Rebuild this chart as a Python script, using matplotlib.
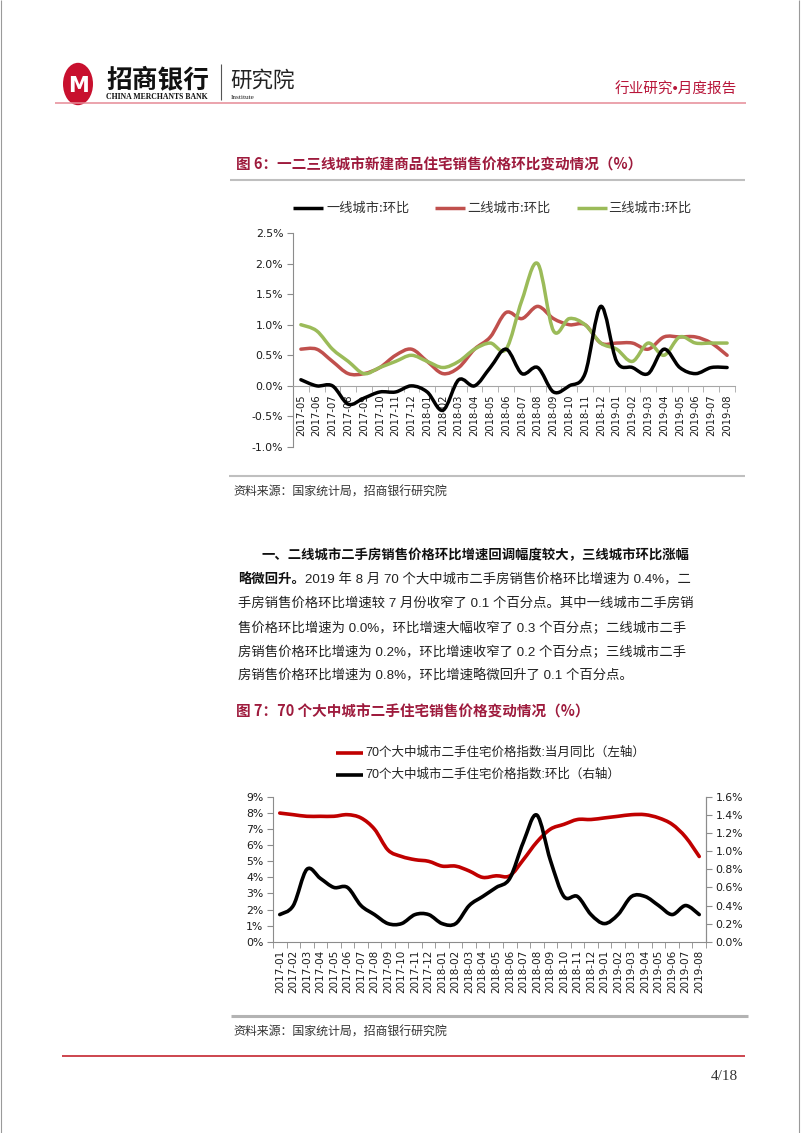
import numpy as np
import matplotlib
matplotlib.use("Agg")
import matplotlib.pyplot as plt
from matplotlib.path import Path
from matplotlib.patches import PathPatch, Circle
from matplotlib.lines import Line2D

plt.rcParams['font.family'] = ['Noto Sans CJK SC', 'DejaVu Sans']

# ---------------- data ----------------
months1 = ["2017-05", "2017-06", "2017-07", "2017-08", "2017-09", "2017-10", "2017-11", "2017-12",
           "2018-01", "2018-02", "2018-03", "2018-04", "2018-05", "2018-06", "2018-07", "2018-08",
           "2018-09", "2018-10", "2018-11", "2018-12", "2019-01", "2019-02", "2019-03", "2019-04",
           "2019-05", "2019-06", "2019-07", "2019-08"]
tier1 = [0.1, 0.0, 0.0, -0.3, -0.2, -0.1, -0.1, 0.0, -0.1, -0.4, 0.1, 0.0, 0.3, 0.6,
         0.2, 0.3, -0.1, 0.0, 0.2, 1.3, 0.4, 0.3, 0.2, 0.6, 0.3, 0.2, 0.3, 0.3]
tier2 = [0.6, 0.6, 0.4, 0.2, 0.2, 0.3, 0.5, 0.6, 0.4, 0.2, 0.3, 0.6, 0.8, 1.2,
         1.1, 1.3, 1.1, 1.0, 1.0, 0.7, 0.7, 0.7, 0.6, 0.8, 0.8, 0.8, 0.7, 0.5]
tier3 = [1.0, 0.9, 0.6, 0.4, 0.2, 0.3, 0.4, 0.5, 0.4, 0.3, 0.4, 0.6, 0.7, 0.6,
         1.4, 2.0, 0.9, 1.1, 1.0, 0.7, 0.6, 0.4, 0.7, 0.5, 0.8, 0.7, 0.7, 0.7]
legend1 = ["一线城市:环比", "二线城市:环比", "三线城市:环比"]

months2 = ["2017-01", "2017-02", "2017-03", "2017-04", "2017-05", "2017-06", "2017-07", "2017-08",
           "2017-09", "2017-10", "2017-11", "2017-12", "2018-01", "2018-02", "2018-03", "2018-04",
           "2018-05", "2018-06", "2018-07", "2018-08", "2018-09", "2018-10", "2018-11", "2018-12",
           "2019-01", "2019-02", "2019-03", "2019-04", "2019-05", "2019-06", "2019-07", "2019-08"]
yoy70 = [8.0, 7.9, 7.8, 7.8, 7.8, 7.9, 7.7, 7.0, 5.7, 5.3, 5.1, 5.0, 4.7, 4.7, 4.4, 4.0,
         4.1, 4.1, 5.1, 6.2, 7.0, 7.3, 7.6, 7.6, 7.7, 7.8, 7.9, 7.9, 7.7, 7.3, 6.5, 5.3]
mom70 = [0.3, 0.4, 0.8, 0.7, 0.6, 0.6, 0.4, 0.3, 0.2, 0.2, 0.3, 0.3, 0.2, 0.2, 0.4, 0.5,
         0.6, 0.7, 1.1, 1.4, 0.9, 0.5, 0.5, 0.3, 0.2, 0.3, 0.5, 0.5, 0.4, 0.3, 0.4, 0.3]
legend2 = ["70个大中城市二手住宅价格指数:当月同比（左轴）", "70个大中城市二手住宅价格指数:环比（右轴）"]

W, H = 802, 1133
fig = plt.figure(figsize=(W / 100, H / 100), dpi=100)
fig.patch.set_facecolor('white')


def fx(x):
    return x / W


def fy(y):
    return 1 - y / H


def hline(x0, x1, y, color, lw):
    fig.add_artist(Line2D([fx(x0), fx(x1)], [fy(y), fy(y)], color=color, lw=lw,
                          transform=fig.transFigure, solid_capstyle='butt'))


def vline(x, y0, y1, color, lw):
    fig.add_artist(Line2D([fx(x), fx(x)], [fy(y0), fy(y1)], color=color, lw=lw,
                          transform=fig.transFigure, solid_capstyle='butt'))


def smooth_path(xs, ys):
    pts = list(zip(xs, ys))
    n = len(pts)
    verts = [pts[0]]
    codes = [Path.MOVETO]
    for i in range(n - 1):
        p0 = pts[i - 1] if i > 0 else pts[i]
        p1 = pts[i]
        p2 = pts[i + 1]
        p3 = pts[i + 2] if i + 2 < n else pts[i + 1]
        c1 = (p1[0] + (p2[0] - p0[0]) / 6, p1[1] + (p2[1] - p0[1]) / 6)
        c2 = (p2[0] - (p3[0] - p1[0]) / 6, p2[1] - (p3[1] - p1[1]) / 6)
        verts += [c1, c2, p2]
        codes += [Path.CURVE4] * 3
    return Path(verts, codes)


def draw_smooth(ax, ys, color, lw, z=2):
    xs = np.arange(len(ys))
    patch = PathPatch(smooth_path(xs, ys), fill=False, edgecolor=color, lw=lw,
                      capstyle='round', joinstyle='round', zorder=z)
    patch.set_clip_on(False)
    ax.add_patch(patch)


AXC = '#8C8C8C'
TXT = '#1a1a1a'

# ---------------- page frame / header ----------------
vline(0.8, 0, H, '#9a9a9a', 0.8)
vline(798.5, 0, H, '#9a9a9a', 0.8)

fig.add_artist(Circle((fx(78), fy(84)), 15 / W, transform=fig.transFigure,
                      facecolor='#C8102E', edgecolor='none'))
fig.text(fx(78), fy(86), "M", color='white', fontsize=15, fontweight='bold',
         family=['DejaVu Sans'], ha='center', va='center')
fig.text(fx(106), fy(80), "招商银行", fontsize=18.5, fontweight='bold', color='#111111',
         ha='left', va='center')
fig.text(fx(106), fy(97), "CHINA MERCHANTS BANK", fontsize=5.6, fontweight='bold',
         family=['Liberation Serif'], color='#111111', ha='left', va='center')
vline(221.5, 64, 100, '#555555', 0.8)
fig.text(fx(230), fy(81), "研究院", fontsize=15.5, color='#222222', ha='left', va='center')
fig.text(fx(231), fy(97.5), "Institute", fontsize=5.2, family=['Liberation Serif'],
         color='#222222', ha='left', va='center')
fig.text(fx(737), fy(90), "行业研究•月度报告", fontsize=10.5, color='#B8163A',
         family=['Liberation Sans', 'Noto Sans CJK SC'], ha='right', va='center')
hline(55, 746, 102.5, '#E58A96', 1.1)

# ---------------- chart 1 ----------------
TITLE_C = '#9E1B3D'
fig.text(fx(236), fy(165), "图 6：一二三线城市新建商品住宅销售价格环比变动情况（%）",
         fontsize=10.5, fontweight='bold', color=TITLE_C, ha='left', va='center')
hline(230, 745, 179.5, '#BFBFBF', 1.5)

colors1 = ['#000000', '#C0504D', '#9BBB59']
leg_pos = [(293, 323, 326), (435, 465, 467), (577, 607, 608)]
for (x0, x1, xt), lab, c in zip(leg_pos, legend1, colors1):
    hline(x0, x1, 208, c, 2.5)
    fig.text(fx(xt), fy(208), lab, fontsize=9.5, color='#333333', ha='left', va='center')

ax1 = fig.add_axes([fx(293), fy(447), (735 - 293) / W, (447 - 233) / H])
ax1.set_xlim(-0.5, len(months1) - 0.5)
ax1.set_ylim(-1.0, 2.5)
for s in ['top', 'right']:
    ax1.spines[s].set_visible(False)
ax1.spines['bottom'].set_position(('data', 0))
ax1.spines['bottom'].set_color('#A6A6A6')
ax1.spines['left'].set_color(AXC)
ax1.set_xticks(np.arange(len(months1)))
ax1.set_xticklabels(months1, rotation=90, fontsize=7.2, color=TXT, family=['DejaVu Sans'])
ax1.set_xticks(np.arange(-0.5, len(months1), 1), minor=True)
ax1.tick_params(axis='x', which='major', length=0, pad=6)
ax1.tick_params(axis='x', which='minor', length=4, color='#A6A6A6', direction='out')
yt1 = np.arange(-1.0, 2.51, 0.5)
ax1.set_yticks(yt1)
ax1.set_yticklabels([f"{v:.1f}%" for v in yt1], fontsize=7.8, color=TXT, family=['DejaVu Sans'])
ax1.tick_params(axis='y', length=4, color=AXC, pad=3)
ax1.patch.set_alpha(0)
draw_smooth(ax1, tier2, colors1[1], 2.5, z=2)
draw_smooth(ax1, tier3, colors1[2], 2.5, z=3)
draw_smooth(ax1, tier1, colors1[0], 2.5, z=4)

hline(229, 745, 476, '#BFBFBF', 1.5)
fig.text(fx(233), fy(492), "资料来源：国家统计局，招商银行研究院", fontsize=8.6,
         color='#333333', ha='left', va='center')

# ---------------- paragraph ----------------
PF = ['Liberation Sans', 'Noto Sans CJK SC']
PS = 9.6
line_y = [555, 579.5, 604, 628, 652, 676]
fig.text(fx(262), fy(line_y[0]), "一、二线城市二手房销售价格环比增速回调幅度较大，三线城市环比涨幅",
         fontsize=PS, fontweight='bold', color='#111111', family=PF, ha='left', va='center')
t2 = fig.text(fx(238), fy(line_y[1]), "略微回升。", fontsize=PS, fontweight='bold',
              color='#111111', family=PF, ha='left', va='center')
fig.canvas.draw()
bb = t2.get_window_extent()
fig.text(bb.x1 / W, fy(line_y[1]), "2019 年 8 月 70 个大中城市二手房销售价格环比增速为 0.4%，二",
         fontsize=PS, color='#222222', family=PF, ha='left', va='center')
rest_lines = [
    "手房销售价格环比增速较 7 月份收窄了 0.1 个百分点。其中一线城市二手房销",
    "售价格环比增速为 0.0%，环比增速大幅收窄了 0.3 个百分点；二线城市二手",
    "房销售价格环比增速为 0.2%，环比增速收窄了 0.2 个百分点；三线城市二手",
    "房销售价格环比增速为 0.8%，环比增速略微回升了 0.1 个百分点。",
]
for yy, s in zip(line_y[2:], rest_lines):
    fig.text(fx(238), fy(yy), s, fontsize=PS, color='#222222', family=PF, ha='left', va='center')

# ---------------- chart 2 ----------------
fig.text(fx(236), fy(712), "图 7：70 个大中城市二手住宅销售价格变动情况（%）",
         fontsize=10.5, fontweight='bold', color=TITLE_C, ha='left', va='center')
colors2 = ['#C00000', '#000000']
for yy, lab, c in zip([753, 775], legend2, colors2):
    hline(336, 363, yy, c, 2.6)
    fig.text(fx(365), fy(yy), lab, fontsize=9.0, color='#222222', ha='left', va='center',
             family=['Liberation Sans', 'Noto Sans CJK SC'])

ax2 = fig.add_axes([fx(273), fy(941.7), (706 - 273) / W, (941.7 - 797) / H])
ax2.set_xlim(-0.5, len(months2) - 0.5)
ax2.set_ylim(0, 9)
ax2.spines['top'].set_visible(False)
for s in ['left', 'bottom', 'right']:
    ax2.spines[s].set_color(AXC)
ax2.set_xticks(np.arange(len(months2)))
ax2.set_xticklabels(months2, rotation=90, fontsize=7.5, color=TXT, family=['DejaVu Sans'])
ax2.set_xticks(np.arange(-0.5, len(months2), 1), minor=True)
ax2.tick_params(axis='x', which='major', length=0, pad=6)
ax2.tick_params(axis='x', which='minor', length=4, color=AXC, direction='out')
yt2 = np.arange(0, 10, 1)
ax2.set_yticks(yt2)
ax2.set_yticklabels([f"{v:d}%" for v in yt2], fontsize=7.8, color=TXT, family=['DejaVu Sans'])
ax2.tick_params(axis='y', length=4, color=AXC, pad=3)
ax2.patch.set_alpha(0)

ax2r = ax2.twinx()
ax2r.set_ylim(0, 1.6)
ax2r.spines['top'].set_visible(False)
ax2r.spines['left'].set_visible(False)
ax2r.spines['bottom'].set_visible(False)
ax2r.spines['right'].set_color(AXC)
yt2r = np.arange(0, 1.61, 0.2)
ax2r.set_yticks(yt2r)
ax2r.set_yticklabels([f"{v:.1f}%" for v in yt2r], fontsize=7.8, color=TXT, family=['DejaVu Sans'])
ax2r.tick_params(axis='y', length=4, color=AXC, pad=3)

draw_smooth(ax2, yoy70, colors2[0], 2.6)
draw_smooth(ax2r, mom70, colors2[1], 2.6)

hline(231, 748, 1015.5, '#B3B3B3', 2.2)
fig.text(fx(233), fy(1032), "资料来源：国家统计局，招商银行研究院", fontsize=8.6,
         color='#333333', ha='left', va='center')

hline(62, 745, 1056, '#C0141E', 1.1)
fig.text(fx(738), fy(1076), "4/18", fontsize=11, family=['Liberation Serif'],
         color='#333333', ha='right', va='center')

fig.savefig("out.png", dpi=100, facecolor='white')
